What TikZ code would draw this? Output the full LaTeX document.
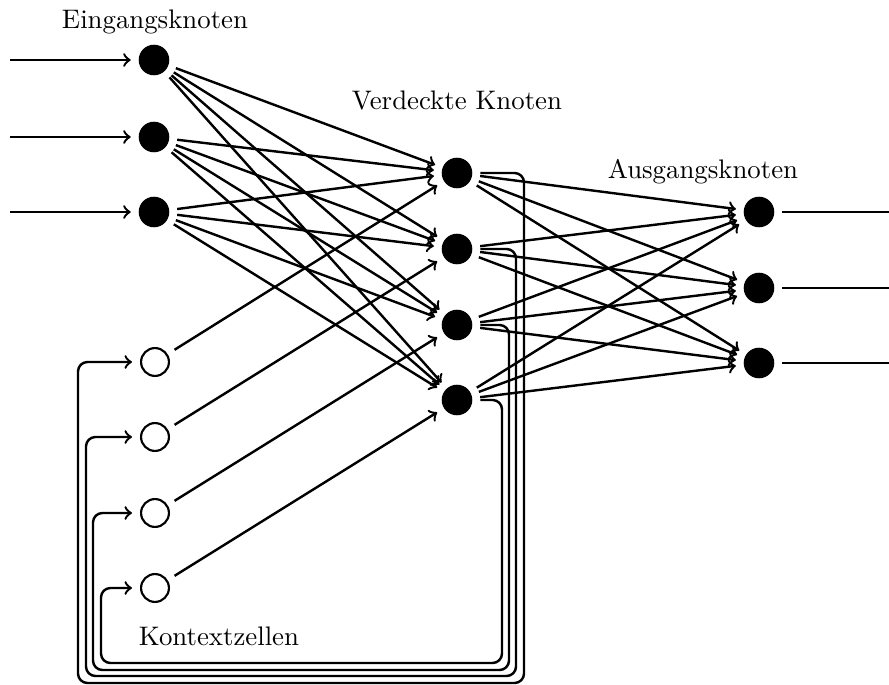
\documentclass[tikz,border=0pt]{standalone}
\begin{document}
\begin{tikzpicture}[x=0.373pt,y=-0.373pt,
  full/.style={circle,fill=black,draw=black,inner sep=0pt,minimum size=11pt},
  ctx/.style={circle,draw=black,line width=0.8pt,fill=white,inner sep=0pt,minimum size=10.4pt},
  conn/.style={line width=0.9pt,->,shorten >=3pt,shorten <=3pt},
  loop/.style={line width=0.9pt,->,shorten >=3pt,shorten <=3pt,rounded corners=3.5pt},
  lbl/.style={font=\normalsize}]
\useasboundingbox (0,0) rectangle (889,685);
% nodes
\node[full] (i1) at (154,60) {};
\node[full] (i2) at (154,137) {};
\node[full] (i3) at (154,212) {};
\node[full] (h1) at (457,173) {};
\node[full] (h2) at (457,249) {};
\node[full] (h3) at (457,325) {};
\node[full] (h4) at (457,400) {};
\node[full] (o1) at (759,212) {};
\node[full] (o2) at (759,288) {};
\node[full] (o3) at (759,363) {};
\node[ctx] (c1) at (155,362) {};
\node[ctx] (c2) at (155,437) {};
\node[ctx] (c3) at (155,513) {};
\node[ctx] (c4) at (155,588) {};
% labels
\node[lbl] (l1) at (155,22) {Eingangsknoten};
\node[lbl] (l2) at (457,100) {Verdeckte Knoten};
\node[lbl] (l3) at (703,172) {Ausgangsknoten};
\node[lbl] (l4) at (219,636) {Kontextzellen};
% free ends
\coordinate (a1) at (10,60);
\coordinate (a2) at (10,137);
\coordinate (a3) at (10,212);
\coordinate (b1) at (889,212);
\coordinate (b2) at (889,288);
\coordinate (b3) at (889,363);
% external inputs / outputs
\foreach \k in {1,2,3} {
  \draw[line width=0.9pt,->,shorten >=3pt] (a\k) -- (i\k);
  \draw[line width=0.9pt,shorten <=3pt] (o\k) -- (b\k);
}
% input -> hidden, hidden -> output
\foreach \i in {1,2,3} \foreach \h in {1,2,3,4} \draw[conn] (i\i) -- (h\h);
\foreach \h in {1,2,3,4} \foreach \o in {1,2,3} \draw[conn] (h\h) -- (o\o);
% context -> hidden
\foreach \k in {1,2,3,4} \draw[conn] (c\k) -- (h\k);
% feedback loops
\draw[loop] (h1.east) -| (524,683) -| (78,362) -- (c1);
\draw[loop] (h2.east) -| (516,676) -| (86,437) -- (c2);
\draw[loop] (h3.east) -| (509,670) -| (93,513) -- (c3);
\draw[loop] (h4.east) -| (502,663) -| (101,588) -- (c4);
\end{tikzpicture}
\end{document}
